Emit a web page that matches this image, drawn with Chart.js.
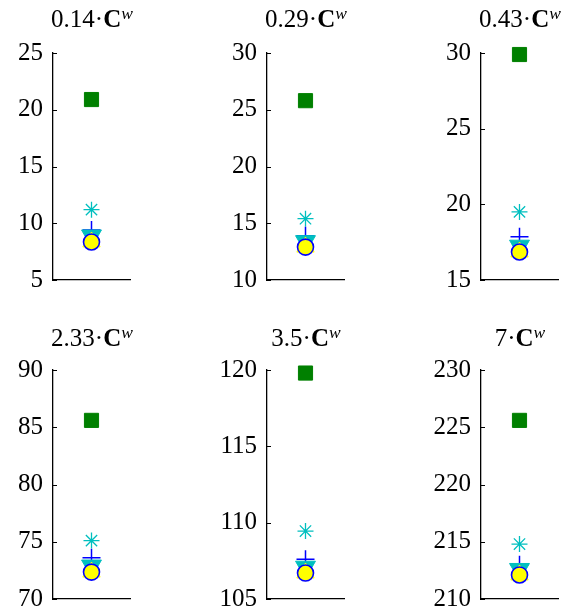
<!DOCTYPE html>
<html>
<head>
<meta charset="utf-8">
<script src="https://cdn.jsdelivr.net/npm/chart.js@4.4.1/dist/chart.umd.min.js"></script>
<style>
  body { margin: 0; background: #fff; overflow: hidden; }
  #wrap { position: relative; width: 574px; height: 612px; overflow: hidden; }
  .cell { position: absolute; width: 214px; height: 330px; }
  .ttl {
    position: absolute; width: 160px; text-align: center;
    font-family: 'Liberation Serif', serif; font-size: 25px; line-height: 24px;
    color: #000; white-space: nowrap;
  }
  .ttl sup { font-size: 0.7em; vertical-align: baseline; position: relative; top: -0.45em; }
</style>
</head>
<body>
<div id="wrap"></div>
<script>
// panel multipliers (titles) and axis ranges
const panelTitles = ['0.14', '0.29', '0.43', '2.33', '3.5', '7'];
const yMins = [5, 10, 15, 70, 105, 210];
const yMaxs = [25, 30, 30, 90, 120, 230];

// series values, one per panel
const squareVals   = [20.9, 25.8, 29.9, 85.6, 119.8, 225.6];
const asteriskVals = [11.2, 15.4, 19.5, 75.1, 109.45, 214.8];
const plusVals     = [9.4, 13.9, 17.85, 73.6, 107.6, 213.0];
const triDownVals  = [8.9, 13.4, 17.25, 72.9, 107.1, 212.6];
const triUpVals    = [8.35, 12.9, 16.85, 72.35, 106.7, 212.1];
const circleVals   = [8.35, 12.9, 16.85, 72.35, 106.7, 212.1];

const CYAN = '#00bfbf';
const BLUE = '#0000ff';

// small tick marks drawn inside the y axis
const innerTicks = {
    id: 'innerTicks',
    afterDraw(chart) {
        const y = chart.scales.y;
        const ctx = chart.ctx;
        ctx.save();
        ctx.strokeStyle = '#000';
        ctx.lineWidth = 1;
        y.ticks.forEach(t => {
            const py = Math.round(y.getPixelForValue(t.value)) + 0.5;
            ctx.beginPath();
            ctx.moveTo(y.right, py);
            ctx.lineTo(y.right + 4, py);
            ctx.stroke();
        });
        ctx.restore();
    }
};

const wrap = document.getElementById('wrap');

panelTitles.forEach((title, i) => {
    const col = i % 3;
    const row = Math.floor(i / 3);

    // each cell is 330 tall; plot area: row 0 -> 53..280, row 1 -> 370..599
    const cellTop = row * 306;
    const cell = document.createElement('div');
    cell.className = 'cell';
    cell.style.left = (col * 214) + 'px';
    cell.style.top = cellTop + 'px';
    const canvas = document.createElement('canvas');
    cell.appendChild(canvas);
    wrap.appendChild(cell);

    const ttl = document.createElement('div');
    ttl.className = 'ttl';
    ttl.innerHTML = title + '·<b>C</b><sup><i>w</i></sup>';
    ttl.style.left = (col * 214 + 92 - 80) + 'px';
    ttl.style.top = (row === 0 ? 7 : 326) + 'px';
    wrap.appendChild(ttl);

    const pt = v => [{ x: 1, y: v }];
    const plotTop = row === 0 ? 53 : 370;
    const plotBottom = row === 0 ? 280 : 599;

    new Chart(canvas, {
        type: 'scatter',
        data: {
            datasets: [
                { data: pt(circleVals[i]), pointStyle: 'circle', pointRadius: 8,
                  backgroundColor: '#ffff00', borderColor: BLUE, borderWidth: 1.6 },
                { data: pt(triUpVals[i]), pointStyle: 'triangle', pointRadius: 10,
                  backgroundColor: '#ffff00', borderColor: '#ffff00', borderWidth: 1 },
                { data: pt(triDownVals[i]), pointStyle: 'triangle', rotation: 180, pointRadius: 11.5,
                  backgroundColor: CYAN, borderColor: CYAN, borderWidth: 1 },
                { data: pt(plusVals[i]), pointStyle: 'cross', pointRadius: 9,
                  borderColor: BLUE, borderWidth: 1.5 },
                { data: pt(asteriskVals[i]), pointStyle: 'star', pointRadius: 8,
                  borderColor: CYAN, borderWidth: 1.3 },
                { data: pt(squareVals[i]), pointStyle: 'rect', pointRadius: 10,
                  backgroundColor: '#008000', borderColor: '#008000', borderWidth: 1 }
            ].map(d => Object.assign(d, { clip: false, pointHoverRadius: d.pointRadius }))
        },
        options: {
            responsive: true,
            maintainAspectRatio: false,
            animation: false,
            events: [],
            layout: {
                padding: {
                    left: 0, right: 84,
                    top: plotTop - cellTop,
                    bottom: 330 - (plotBottom - cellTop)
                }
            },
            plugins: {
                legend: { display: false },
                tooltip: { enabled: false }
            },
            scales: {
                x: {
                    type: 'linear', min: 0, max: 2,
                    ticks: { display: false },
                    grid: { display: false, drawTicks: false },
                    border: { display: true, color: '#000', width: 1.3 },
                    afterFit(s) { s.height = 0; }
                },
                y: {
                    min: yMins[i], max: yMaxs[i],
                    ticks: {
                        stepSize: 5, color: '#000', padding: 10,
                        font: { family: 'Liberation Serif', size: 25 }
                    },
                    grid: { display: false, drawTicks: false },
                    border: { display: true, color: '#000', width: 1.3 },
                    afterFit(s) { s.width = 53; }
                }
            }
        },
        plugins: [innerTicks]
    });
});
</script>
</body>
</html>
